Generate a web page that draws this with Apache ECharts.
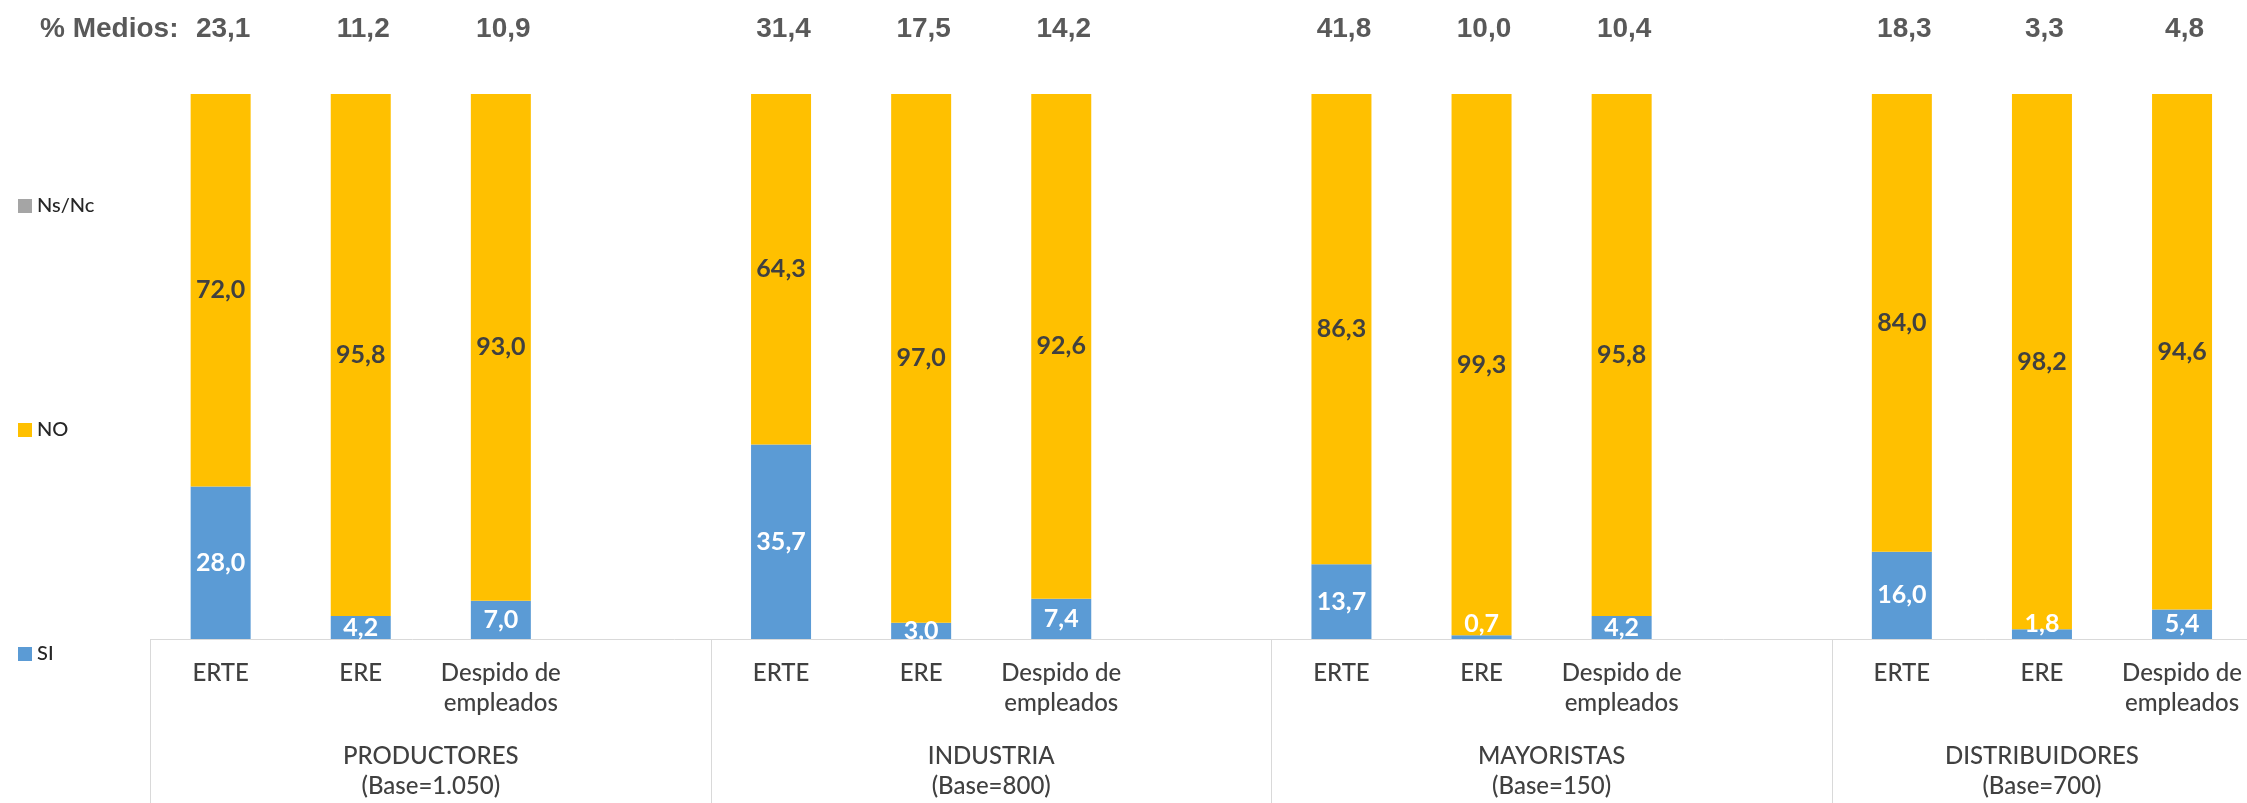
<!DOCTYPE html>
<html>
<head>
<meta charset="utf-8">
<title>ERTE / ERE / Despido</title>
<script src="https://cdn.jsdelivr.net/npm/echarts@6.0.0/dist/echarts.min.js"></script>
<style>
html,body{margin:0;padding:0;background:#fff;}
#chart_show{width:2247px;height:803px;}
</style>
</head>
<body>
<div id="chart_show"></div>
<script>
// categorias (el hueco '' separa los grupos)
let aCategorias = ['ERTE','ERE','Despido de\nempleados','',
                   'ERTE','ERE','Despido de\nempleados','',
                   'ERTE','ERE','Despido de\nempleados','',
                   'ERTE','ERE','Despido de\nempleados'];
let aSi   = [28.0, 4.2, 7.0, null, 35.7, 3.0, 7.4, null, 13.7, 0.7, 4.2, null, 16.0, 1.8, 5.4];
let aNo   = [72.0, 95.8, 93.0, null, 64.3, 97.0, 92.6, null, 86.3, 99.3, 95.8, null, 84.0, 98.2, 94.6];
let aNsNc = [0, 0, 0, null, 0, 0, 0, null, 0, 0, 0, null, 0, 0, 0];
let aMedios = [23.1, 11.2, 10.9, null, 31.4, 17.5, 14.2, null, 41.8, 10.0, 10.4, null, 18.3, 3.3, 4.8];

let aGrupos = ['PRODUCTORES', 'INDUSTRIA', 'MAYORISTAS', 'DISTRIBUIDORES'];
let aBases  = ['1.050', '800', '150', '700'];
let aGrupoTam = [4, 4, 4, 3];

function fmt(v){
  return v == null ? '' : v.toFixed(1).replace('.', ',');
}

// limites y centros de cada grupo en unidades de categoria
let aLimites = [];
let aCentros = [];
let oEtiquetaGrupo = {};
let acum = 0;
for(var i=0;i<aGrupoTam.length;i++){
  aLimites.push(acum);
  aCentros.push(acum + aGrupoTam[i] / 2);
  oEtiquetaGrupo[acum + aGrupoTam[i] / 2] = aGrupos[i] + '\n(Base=' + aBases[i] + ')';
  acum += aGrupoTam[i];
}

let sFuente = 'Lato, "Noto Sans", sans-serif';
let oChart = echarts.init(document.getElementById('chart_show'));
let oOpt = {
  animation: false,
  backgroundColor: '#fff',
  graphic: [{
    type: 'text',
    x: 40,
    y: 29,
    style: {
      text: '% Medios:',
      font: 'bold 28px "Liberation Sans", Arial, sans-serif',
      fill: '#595959',
      verticalAlign: 'middle'
    }
  }],
  legend: {
    data: ['Ns/Nc', 'NO', 'SI'],
    orient: 'vertical',
    left: 13,
    top: 191,
    icon: 'rect',
    itemWidth: 14,
    itemHeight: 14,
    itemGap: 204,
    itemStyle: {borderWidth: 0},
    textStyle: {
      fontFamily: sFuente,
      fontWeight: 500,
      fontSize: 20,
      lineHeight: 18,
      color: '#262626'
    }
  },
  grid: {
    left: 150.6,
    top: 94,
    width: 2101.5,
    height: 545,
    outerBoundsMode: 'none',
    containLabel: false
  },
  xAxis: [
    {
      type: 'category',
      position: 'bottom',
      data: aCategorias,
      axisLine: {show: true, lineStyle: {color: '#D9D9D9', width: 1}},
      axisTick: {show: false},
      splitLine: {show: false},
      axisLabel: {
        interval: 0,
        margin: 19,
        fontFamily: sFuente,
        fontWeight: 500,
        fontSize: 24,
        lineHeight: 30,
        color: '#404040'
      }
    },
    {
      type: 'value',
      position: 'bottom',
      min: 0,
      max: aCategorias.length,
      axisLine: {show: false},
      splitLine: {show: false},
      axisTick: {
        show: true,
        customValues: aLimites,
        length: 165,
        lineStyle: {color: '#D9D9D9', width: 1}
      },
      axisLabel: {
        show: true,
        customValues: aCentros,
        margin: 102.5,
        fontFamily: sFuente,
        fontWeight: 500,
        fontSize: 24,
        lineHeight: 30,
        color: '#404040',
        formatter: function(v){ return oEtiquetaGrupo[v] || ''; }
      }
    },
    {
      type: 'category',
      position: 'top',
      data: aMedios.map(fmt),
      axisLine: {show: false},
      axisTick: {show: false},
      splitLine: {show: false},
      axisLabel: {
        interval: 0,
        margin: 50,
        padding: [0, 0, 0, 5],
        fontFamily: '"Liberation Sans", Arial, sans-serif',
        fontWeight: 'bold',
        fontSize: 28,
        lineHeight: 30,
        color: '#595959'
      }
    }
  ],
  yAxis: {
    type: 'value',
    min: 0,
    max: 100,
    show: false
  },
  series: [
    {
      name: 'SI',
      type: 'bar',
      stack: 'total',
      barWidth: 60,
      data: aSi,
      itemStyle: {color: '#5B9BD5'},
      label: {
        show: true,
        position: 'inside',
        formatter: function(p){ return fmt(p.value); },
        fontFamily: sFuente,
        fontWeight: 'bold',
        fontSize: 25,
        lineHeight: 28,
        color: '#fff',
        textBorderWidth: 0
      },
      // etiquetas de tramos muy finos: se suben para que no pisen el eje
      labelLayout: function(p){
        let h = p.labelRect.height;
        if(p.rect.height < h / 2){
          return {
            x: p.rect.x + p.rect.width / 2,
            y: p.rect.y + p.rect.height - h / 2 - 1,
            align: 'center',
            verticalAlign: 'middle'
          };
        }
        return {};
      }
    },
    {
      name: 'NO',
      type: 'bar',
      stack: 'total',
      barWidth: 60,
      data: aNo,
      itemStyle: {color: '#FFC000'},
      label: {
        show: true,
        position: 'inside',
        formatter: function(p){ return fmt(p.value); },
        fontFamily: sFuente,
        fontWeight: 'bold',
        fontSize: 25,
        lineHeight: 28,
        color: '#404040',
        textBorderWidth: 0
      }
    },
    {
      name: 'Ns/Nc',
      type: 'bar',
      stack: 'total',
      barWidth: 60,
      data: aNsNc,
      itemStyle: {color: '#A5A5A5'},
      label: {show: false}
    }
  ]
};
oChart.setOption(oOpt);
</script>
</body>
</html>
